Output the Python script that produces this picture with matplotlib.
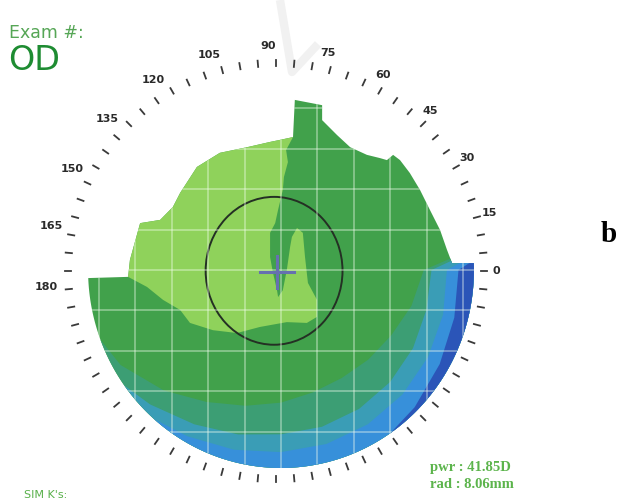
import numpy as np
import matplotlib.pyplot as plt
from matplotlib.patches import Polygon, Ellipse
from matplotlib.lines import Line2D

# ---- corneal map data, lengths in mm from the map centre (x right, y up) ----
# upper edge of the measured area, right rim -> left rim
top_edge_x = [5.27, 4.70, 4.56, 4.37, 4.09, 3.82, 3.54, 3.27, 3.08, 2.91, 2.72, 2.36,
              1.90, 1.54, 1.13, 1.13, 0.38, 0.33, -0.03, -0.30, -0.93, -1.68, -2.31,
              -2.77, -2.97, -3.32, -3.87, -4.15, -4.20, -5.30]
top_edge_y = [0.17, 0.17, 0.50, 0.99, 1.49, 1.98, 2.40, 2.72, 2.85, 2.72, 2.77, 2.85,
              3.04, 3.34, 3.71, 4.08, 4.21, 3.29, 3.22, 3.17, 3.04, 2.90, 2.55,
              1.91, 1.56, 1.24, 1.16, 0.25, -0.17, -0.20]
rim_rx, rim_ry = 5.3, 4.9

# boundary of the flat (light green) zone, from the top notch round to the left edge
light_edge_x = [0.14, 0.19, 0.08, 0.05, -0.08, -0.16, -0.30, -0.30, -0.22, -0.11, -0.08,
                0.05, 0.16, 0.25, 0.30, 0.44, 0.60, 0.66, 0.74, 0.99, 0.99, 0.71, 0.16,
                -0.58, -1.21, -1.87, -2.50, -2.77, -3.24, -3.68]
light_edge_y = [2.97, 2.67, 2.30, 1.98, 1.49, 1.16, 0.92, 0.32, -0.07, -0.50, -0.67,
                -0.50, 0.00, 0.57, 0.82, 1.04, 0.92, 0.32, -0.32, -0.74, -1.16, -1.31, -1.29,
                -1.41, -1.56, -1.49, -1.31, -0.99, -0.74, -0.42]

# steeper peripheral zones: inner edge as a fraction of the rim radius per meridian
band_angles = [10, 0, -15, -30, -45, -60, -75, -90, -105, -120, -135, -150, -165, -180, -190]
band_teal = [1.3, 0.74, 0.70, 0.66, 0.64, 0.63, 0.64, 0.67, 0.71, 0.77, 0.86, 0.96, 1.04, 1.10, 1.3]
band_cyan = [1.3, 0.78, 0.78, 0.79, 0.80, 0.81, 0.82, 0.83, 0.86, 0.90, 0.96, 1.04, 1.10, 1.3, 1.3]
band_blue = [1.3, 0.86, 0.87, 0.88, 0.89, 0.90, 0.91, 0.92, 0.94, 0.97, 1.02, 1.10, 1.3, 1.3, 1.3]
band_navy = [1.3, 0.92, 0.93, 0.95, 0.98, 1.02, 1.10, 1.3, 1.3, 1.3, 1.3, 1.3, 1.3, 1.3, 1.3]

pupil_centre = (-0.19, -0.02)
pupil_radius = (1.88, 1.83)
vertex = (-0.11, -0.05)

axis_labels = [0, 15, 30, 45, 60, 75, 90, 105, 120, 135, 150, 165, 180]

mid_green = '#41a14b'
light_green = '#8fd25b'
band_colors = ['#3c9e74', '#3a9db6', '#3790da', '#2b55b8']

# ---- figure: one axes in mm, 36.4 px/mm across, 40.4 px/mm down ----
W, H = 619, 501
cx_px, cy_px, sx, sy = 281, 270, 36.4, 40.4
fig = plt.figure(figsize=(W / 100, H / 100), dpi=100)

# faint grey stroke of the page watermark behind the map
fig.add_artist(Line2D(np.array([280, 292, 318]) / W, 1 - np.array([0, 72, 44]) / H,
                      color='#f1f1f1', lw=6, solid_capstyle='butt', zorder=0))

ax = fig.add_axes([0, 0, 1, 1])
ax.set_xlim(-cx_px / sx, (W - cx_px) / sx)
ax.set_ylim(-(H - cy_px) / sy, cy_px / sy)
ax.axis('off')

# outline: ragged top edge plus the lower half of the rim
t0 = np.arctan2(top_edge_y[-1] / rim_ry, top_edge_x[-1] / rim_rx) % (2 * np.pi)
t1 = np.arctan2(top_edge_y[0] / rim_ry, top_edge_x[0] / rim_rx) + 2 * np.pi
t = np.linspace(t0, t1, 240)
ox = np.concatenate([top_edge_x, rim_rx * np.cos(t)])
oy = np.concatenate([top_edge_y, rim_ry * np.sin(t)])
outline = Polygon(np.column_stack([ox, oy]), closed=True, fc=mid_green, ec='none')
ax.add_patch(outline)

# peripheral bands, clipped to the outline
a = np.radians(band_angles)
for frac, col in zip([band_teal, band_cyan, band_blue, band_navy], band_colors):
    frac = np.array(frac)
    inner = np.column_stack([frac * rim_rx * np.cos(a), frac * rim_ry * np.sin(a)])
    outer = np.column_stack([1.4 * rim_rx * np.cos(a), 1.4 * rim_ry * np.sin(a)])[::-1]
    p = Polygon(np.vstack([inner, outer]), closed=True, fc=col, ec='none')
    ax.add_patch(p)
    p.set_clip_path(outline)

# flat zone
lx = np.concatenate([light_edge_x, top_edge_x[28:16:-1]])
ly = np.concatenate([light_edge_y, top_edge_y[28:16:-1]])
ax.add_patch(Polygon(np.column_stack([lx, ly]), closed=True, fc=light_green, ec='none'))

# 1 mm grid
for v in range(-6, 7):
    ln, = ax.plot([v, v], [-6, 6], color='#f4fff0', lw=1.3, alpha=0.4)
    ln.set_clip_path(outline)
for v in range(-5, 6):
    ln, = ax.plot([-6, 6], [v, v], color='#f4fff0', lw=1.3, alpha=0.4)
    ln.set_clip_path(outline)

# pupil and vertex
ax.add_patch(Ellipse(pupil_centre, 2 * pupil_radius[0], 2 * pupil_radius[1],
                     fill=False, ec='#243024', lw=1.4))
ax.plot([vertex[0] - 0.47, vertex[0] + 0.47], [vertex[1]] * 2, color='#6670b0', lw=2.2)
ax.plot([vertex[0]] * 2, [vertex[1] - 0.4, vertex[1] + 0.4], color='#6670b0', lw=2.2)

# meridian ring
rcx, rcy, rrx, rry = -0.137, -0.025, 208 / sx, 208 / sy
for d in range(0, 360, 5):
    r = np.radians(d)
    ax.plot([rcx + 0.985 * rrx * np.cos(r), rcx + 1.015 * rrx * np.cos(r)],
            [rcy + 0.985 * rry * np.sin(r), rcy + 1.015 * rry * np.sin(r)],
            color='#3a3a3a', lw=1.3)
for d in axis_labels:
    r = np.radians(d + 4 * d / 180)
    f = (220 + 10 * d / 180) / 208
    ax.text(rcx + f * rrx * np.cos(r), rcy + f * rry * np.sin(r), str(d),
            ha='center', va='center', fontsize=8, fontweight='bold', color='#2a2a2a')


def px_text(x, y, s, **kw):
    fig.text(x / W, 1 - y / H, s, **kw)


px_text(9, 33, 'Exam #:', fontsize=12.5, color='#56a656', va='center')
px_text(8, 61, 'OD', fontsize=24, color='#1e8c32', va='center')
px_text(430, 467, 'pwr : 41.85D', fontsize=10.5, color='#5cb44c', va='center',
        family='Liberation Serif', fontweight='bold')
px_text(430, 484, 'rad : 8.06mm', fontsize=10.5, color='#5cb44c', va='center',
        family='Liberation Serif', fontweight='bold')
px_text(24, 495, "SIM K's:", fontsize=8, color='#58b04a', va='center')
px_text(601, 234, 'b', fontsize=21, color='black', va='center',
        family='Liberation Serif', fontweight='bold')

fig.savefig('out.png', dpi=100)
